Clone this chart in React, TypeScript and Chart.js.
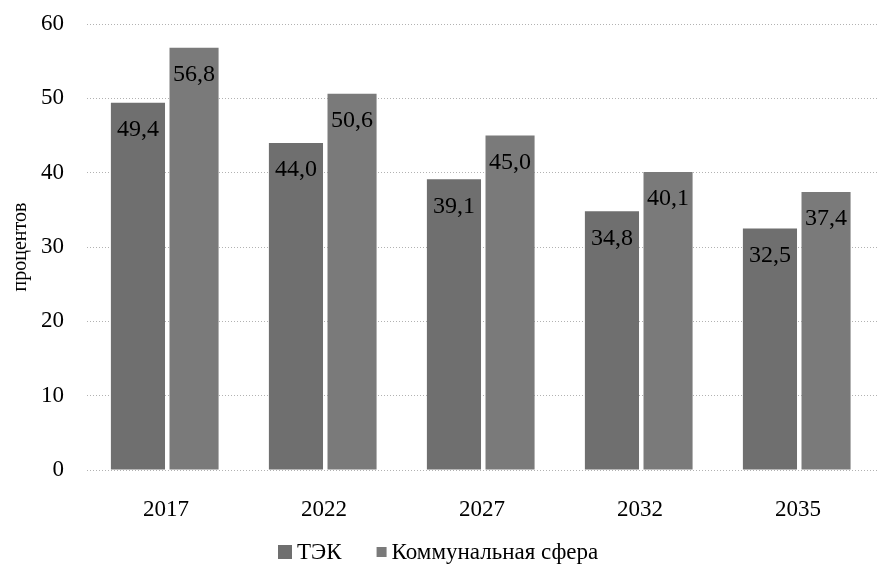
import React, { useEffect, useRef } from "react";
import { Chart, registerables } from "chart.js";

Chart.register(...registerables);

const categories = ["2017", "2022", "2027", "2032", "2035"];
const tekValues = [49.4, 44.0, 39.1, 34.8, 32.5];
const communalValues = [56.8, 50.6, 45.0, 40.1, 37.4];
const seriesNames = ["ТЭК", "Коммунальная сфера"];
const yTitle = "процентов";
const yMin = 0;
const yMax = 60;
const yStep = 10;

const FONT = "'Liberation Serif', 'Times New Roman', serif";

const barLabelPlugin = {
  id: "barLabels",
  afterDatasetsDraw(chart: any) {
    const ctx = chart.ctx;
    ctx.save();
    ctx.font = `24px ${FONT}`;
    ctx.fillStyle = "#000";
    ctx.textAlign = "center";
    ctx.textBaseline = "middle";
    chart.data.datasets.forEach((ds: any, i: number) => {
      const meta = chart.getDatasetMeta(i);
      meta.data.forEach((bar: any, j: number) => {
        const v = ds.data[j] as number;
        const txt = v.toFixed(1).replace(".", ",");
        ctx.fillText(txt, bar.x, bar.y + 27);
      });
    });
    ctx.restore();
  },
};

const legendPlugin = {
  id: "customLegend",
  afterDraw(chart: any) {
    const ctx = chart.ctx;
    ctx.save();
    ctx.font = `23px ${FONT}`;
    ctx.textBaseline = "middle";
    ctx.textAlign = "left";
    const cy = 552;
    const boxSizes = [14, 10];
    let x = 278;
    chart.data.datasets.forEach((ds: any, i: number) => {
      const s = boxSizes[i] || 12;
      ctx.fillStyle = ds.backgroundColor;
      ctx.fillRect(x, cy - s / 2, s, s);
      x += s + 5;
      ctx.fillStyle = "#000";
      ctx.fillText(ds.label, x, cy + 1);
      x += ctx.measureText(ds.label).width + 35;
    });
    ctx.restore();
  },
};

export default function App() {
  const canvasRef = useRef<HTMLCanvasElement | null>(null);

  useEffect(() => {
    if (!canvasRef.current) return;
    const chart = new Chart(canvasRef.current, {
      type: "bar",
      data: {
        labels: categories,
        datasets: [
          {
            label: seriesNames[0],
            data: tekValues,
            backgroundColor: "#6f6f6f",
            barPercentage: 0.965,
            categoryPercentage: 0.71,
          },
          {
            label: seriesNames[1],
            data: communalValues,
            backgroundColor: "#7a7a7a",
            barPercentage: 0.875,
            categoryPercentage: 0.71,
          },
        ],
      },
      options: {
        responsive: false,
        animation: false,
        layout: { padding: { top: 24, left: 0, right: 0, bottom: 35 } },
        plugins: {
          legend: { display: false },
          tooltip: { enabled: false },
        },
        scales: {
          x: {
            grid: { display: false },
            border: { display: false },
            ticks: {
              color: "#000",
              font: { family: FONT, size: 23 },
              padding: 18,
            },
            afterFit(scale: any) {
              scale.height = 62;
            },
          },
          y: {
            min: yMin,
            max: yMax,
            border: { display: false, dash: [1, 2] },
            grid: {
              color: "rgba(0,0,0,0.3)",
              drawTicks: false,
              lineWidth: 1,
            },
            ticks: {
              stepSize: yStep,
              color: "#000",
              font: { family: FONT, size: 23 },
              padding: 23,
            },
            title: {
              display: true,
              text: yTitle,
              color: "#000",
              font: { family: FONT, size: 20 },
              padding: { top: 9, bottom: 0 },
            },
            afterFit(scale: any) {
              scale.width = 87;
              scale.paddingTop = 0;
              scale.paddingBottom = 0;
            },
          },
        },
      },
      plugins: [barLabelPlugin, legendPlugin],
    } as any);
    return () => chart.destroy();
  }, []);

  return (
    <div style={{ position: "absolute", left: 0, top: 0, width: 877, height: 567, background: "#fff" }}>
      <canvas ref={canvasRef} width={877} height={567} style={{ display: "block" }} />
    </div>
  );
}
